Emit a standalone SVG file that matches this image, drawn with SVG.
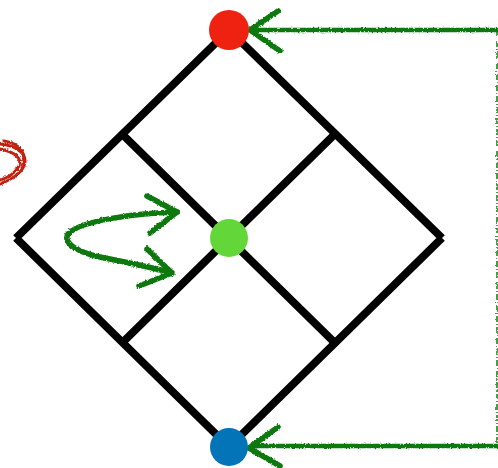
<svg xmlns="http://www.w3.org/2000/svg" width="498" height="468" viewBox="0 0 498 468">
<defs>
<filter id="rough" x="-10%" y="-10%" width="120%" height="120%">
<feTurbulence type="fractalNoise" baseFrequency="0.6" numOctaves="2" seed="3" result="n"/>
<feDisplacementMap in="SourceGraphic" in2="n" scale="3" xChannelSelector="R" yChannelSelector="G"/>
</filter>
</defs>
<style>
.grid{stroke:#000;stroke-width:8;fill:none;stroke-linecap:butt}
.pen{stroke:#0a780a;stroke-width:5.5;fill:none;stroke-linecap:round;stroke-linejoin:round}
.shaft{stroke:#0a780a;stroke-width:4.5;fill:none;stroke-linecap:round}
.thin{stroke:#0a780a;stroke-width:1.5;fill:none;stroke-dasharray:6 2 1 2}
.red{stroke:#c0200f;stroke-width:3;fill:none;stroke-linecap:round}
</style>
<rect width="498" height="468" fill="#fff"/>
<g id="diamond">
<path class="grid" d="M229,30 L16,238 M229,30 L442,238 M442,238 L229,447 M16,238 L229,447"/>
<path class="grid" d="M122,134 L335,343 M335,134 L122,343"/>
</g>
<g id="red-curve" filter="url(#rough)">
<path class="red" d="M0,144 C20,146 28,156 24,166 C20,175 10,180 0,184"/>
<path class="red" d="M0,149 C16,152 22,159 19,166 C15,173 8,178 0,180"/>
<path class="red" d="M4,141 C22,144 27,155 22,167"/>
</g>
<g id="connectors" filter="url(#rough)">
<path class="shaft" d="M497,30 L254,30"/>
<path class="pen" d="M250,30 L278,11 M250,30 L280,51"/>
<path class="thin" d="M497,30 L497,447"/>
<path class="shaft" d="M497,446 L254,446"/>
<path class="pen" d="M249,448 L278,427 M249,448 L280,466"/>
<path class="pen" d="M177,212 C140,213 80,220 68,234 C62,244 80,254 110,259 C135,264 155,268 172,273"/>
<path class="pen" d="M177,212 L147,196 M177,212 L150,233 M172,273 L147,249 M172,273 L139,286"/>
</g>
<g id="node-top"><circle cx="229" cy="30" r="20" fill="#ef2212"/></g>
<g id="node-center"><circle cx="229" cy="238" r="19" fill="#63d73a"/></g>
<g id="node-bottom"><circle cx="229" cy="447" r="19" fill="#0474b8"/></g>
</svg>
